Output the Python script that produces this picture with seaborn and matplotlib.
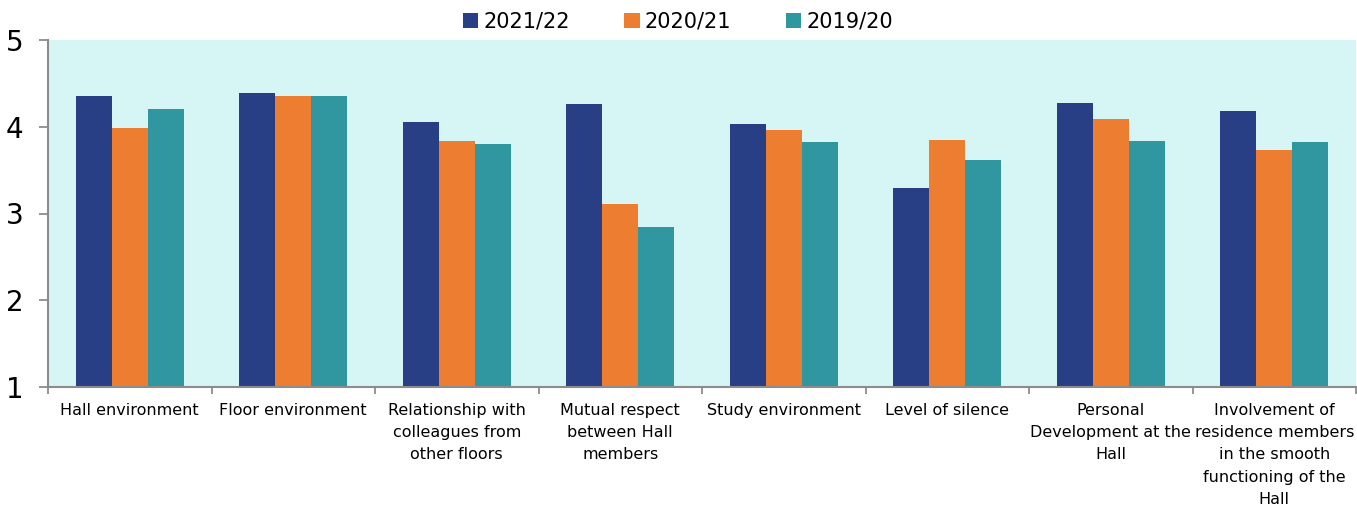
import numpy as np
import pandas as pd
import seaborn as sns
from matplotlib import pyplot as plt

# survey categories (label line breaks as in the source chart)
categories = [
    "Hall environment",
    "Floor environment",
    "Relationship with\ncolleagues from\nother floors",
    "Mutual respect\nbetween Hall\nmembers",
    "Study environment",
    "Level of silence",
    "Personal\nDevelopment at the\nHall",
    "Involvement of\nresidence members\nin the smooth\nfunctioning of the\nHall",
]
years = ["2021/22", "2020/21", "2019/20"]

scores_2122 = [4.36, 4.39, 4.06, 4.26, 4.03, 3.29, 4.27, 4.18]
scores_2021 = [3.99, 4.35, 3.83, 3.11, 3.96, 3.85, 4.09, 3.73]
scores_1920 = [4.20, 4.35, 3.80, 2.85, 3.82, 3.62, 3.84, 3.82]

colors = ["#283F85", "#ED7D31", "#3096A0"]

df = pd.DataFrame({
    "category": categories * 3,
    "year": [years[0]] * 8 + [years[1]] * 8 + [years[2]] * 8,
    "score": scores_2122 + scores_2021 + scores_1920,
})

sns.set_style("white")
plt.rcParams["font.family"] = ["DejaVu Sans"]
plt.rcParams["text.color"] = "black"

fig = plt.figure(figsize=(13.57, 5.08), dpi=100)
ax = fig.add_axes([48 / 1357, 1 - 387 / 508, 1308 / 1357, 347 / 508])
ax.set_facecolor("#D5F6F4")

sns.barplot(data=df, x="category", y="score", hue="year", hue_order=years,
            palette=colors, saturation=1, width=0.66, linewidth=0,
            ax=ax, legend=True)

ax.set_ylim(1, 5)
ax.set_xlim(-0.5, len(categories) - 0.5)
ax.set_yticks([1, 2, 3, 4, 5])
ax.set_xlabel("")
ax.set_ylabel("")

# spines
for side in ["top", "right"]:
    ax.spines[side].set_visible(False)
for side in ["left", "bottom"]:
    ax.spines[side].set_color("#8C8C8C")
    ax.spines[side].set_linewidth(1.5)

# y ticks
ax.tick_params(axis="y", which="major", left=True, length=6.5, width=1.3,
               color="#8C8C8C", labelcolor="black", labelsize=20, pad=11)
# x labels centred, tick marks between groups
ax.tick_params(axis="x", which="major", bottom=False, labelsize=11.5,
               labelcolor="black", pad=8)
ax.set_xticks(np.arange(-0.5, len(categories)), minor=True)
ax.tick_params(axis="x", which="minor", bottom=True, length=5, width=1.3,
               color="#8C8C8C")
for lab in ax.get_xticklabels():
    lab.set_linespacing(1.6)
    lab.set_verticalalignment("top")

# legend at top
handles, labels = ax.get_legend_handles_labels()
ax.legend_.remove()
fig.legend(handles, labels, loc="center", bbox_to_anchor=(0.4995, 0.957),
           ncol=3, frameon=False, fontsize=15, handlelength=0.75,
           handleheight=0.75, handletextpad=0.25, columnspacing=2.6)

plt.savefig("out.png", dpi=100)
plt.close()
